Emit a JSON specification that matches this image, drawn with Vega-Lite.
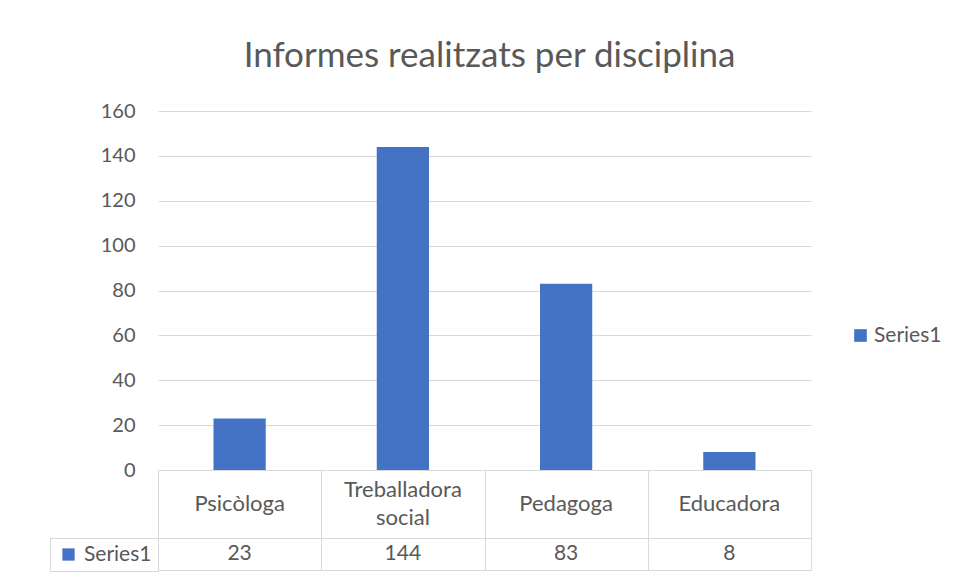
{
  "$schema": "https://vega.github.io/schema/vega-lite/v6.json",
  "padding": {"left": 49, "top": 39, "right": 5, "bottom": 5},
  "background": "white",
  "spacing": 0,
  "bounds": "flush",
  "config": {"font": "Lato", "view": {"stroke": null}, "concat": {"spacing": 0}},
  "datasets": {
    "d": [
      {"cat": "Psicòloga", "label": "Psicòloga", "lines": 1, "series": "Series1", "value": 23},
      {"cat": "Treballadora social", "label": "Treballadora\nsocial", "lines": 2, "series": "Series1", "value": 144},
      {"cat": "Pedagoga", "label": "Pedagoga", "lines": 1, "series": "Series1", "value": 83},
      {"cat": "Educadora", "label": "Educadora", "lines": 1, "series": "Series1", "value": 8}
    ]
  },
  "resolve": {
    "scale": {"color": "independent", "x": "independent", "y": "independent"},
    "legend": {"color": "independent"}
  },
  "vconcat": [
    {
      "title": {"text": "Informes realitzats per disciplina", "fontSize": 35, "fontWeight": "normal", "color": "#595959", "anchor": "middle", "frame": "group", "offset": 27, "dx": 5, "font": "Lato"},
      "width": 653,
      "height": 359,
      "data": {"name": "d"},
      "mark": {"type": "bar", "color": "#4472c4"},
      "encoding": {
        "x": {"field": "cat", "type": "nominal", "sort": ["Psicòloga", "Treballadora social", "Pedagoga", "Educadora"], "axis": null, "scale": {"paddingInner": 0.68, "paddingOuter": 0.34}},
        "y": {"field": "value", "type": "quantitative", "scale": {"domain": [0, 160], "nice": false},
          "axis": {"values": [0, 20, 40, 60, 80, 100, 120, 140, 160], "title": null, "domain": false, "ticks": false, "labelPadding": 23, "gridColor": "#d9d9d9", "labelFontSize": 20, "labelColor": "#595959", "labelFont": "Lato"}},
        "color": {"field": "series", "type": "nominal", "scale": {"range": ["#4472c4"]},
          "legend": {"title": null, "orient": "none", "legendX": 692, "legendY": 214, "symbolType": "square", "symbolSize": 160, "symbolStrokeWidth": 0, "labelFontSize": 21, "labelColor": "#595959", "labelFont": "Lato", "labelOffset": 3, "padding": 0}}
      }
    },
    {
      "width": 653,
      "height": 68,
      "view": {"stroke": "#d9d9d9"},
      "data": {"name": "d"},
      "encoding": {
        "x": {"field": "cat", "type": "nominal", "sort": ["Psicòloga", "Treballadora social", "Pedagoga", "Educadora"], "scale": {"paddingInner": 0, "paddingOuter": 0},
          "axis": {"grid": true, "tickBand": "extent", "domain": false, "ticks": false, "labels": false, "title": null, "gridColor": "#d9d9d9"}},
        "text": {"field": "label"}
      },
      "layer": [
        {
          "transform": [{"filter": "datum.lines == 1"}],
          "mark": {"type": "text", "fontSize": 22, "color": "#595959", "font": "Lato"}
        },
        {
          "transform": [{"filter": "datum.lines == 2"}],
          "mark": {"type": "text", "lineBreak": "\n", "fontSize": 22, "color": "#595959", "lineHeight": 28, "dy": -14, "font": "Lato"}
        }
      ]
    },
    {
      "width": 653,
      "height": 32,
      "view": {"stroke": "#d9d9d9"},
      "data": {"name": "d"},
      "layer": [
        {
          "mark": {"type": "text", "fontSize": 21, "color": "#595959", "font": "Lato"},
          "encoding": {
            "x": {"field": "cat", "type": "nominal", "sort": ["Psicòloga", "Treballadora social", "Pedagoga", "Educadora"], "scale": {"paddingInner": 0, "paddingOuter": 0},
              "axis": {"grid": true, "tickBand": "extent", "domain": false, "ticks": false, "labels": false, "title": null, "gridColor": "#d9d9d9"}},
            "text": {"field": "value"}
          }
        },
        {
          "mark": {"type": "square", "opacity": 0},
          "encoding": {
            "x": {"field": "cat", "type": "nominal", "sort": ["Psicòloga", "Treballadora social", "Pedagoga", "Educadora"]},
            "color": {"field": "series", "type": "nominal", "scale": {"range": ["#4472c4"]},
              "legend": {"title": null, "orient": "left", "offset": 0, "strokeColor": "#d9d9d9", "padding": 6, "symbolType": "square", "symbolSize": 150, "symbolOpacity": 1, "symbolStrokeWidth": 0, "symbolOffset": 2, "labelOffset": 5, "labelFontSize": 21, "labelColor": "#595959", "labelFont": "Lato"}}
          }
        }
      ]
    }
  ]
}
